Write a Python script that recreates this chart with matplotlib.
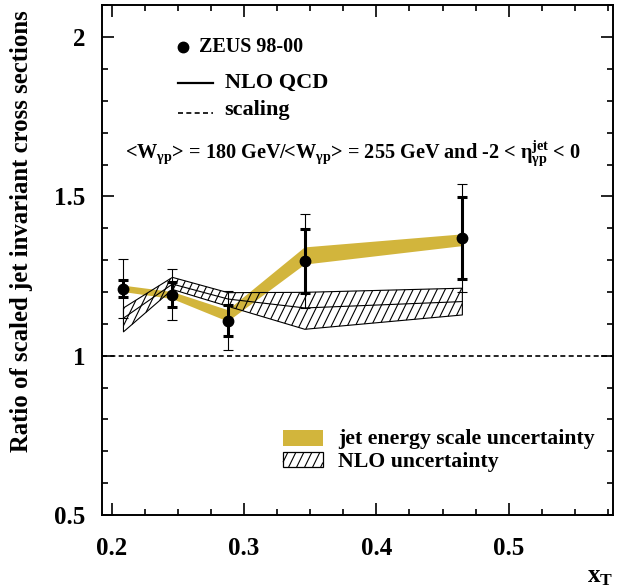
import numpy as np
import matplotlib
matplotlib.use("Agg")
import matplotlib.pyplot as plt
from matplotlib.patches import Rectangle
from matplotlib.collections import LineCollection
from matplotlib.transforms import IdentityTransform
from matplotlib.ticker import MultipleLocator

# ---- data -------------------------------------------------------------
xt = [0.209, 0.246, 0.288, 0.346, 0.465]
ratio = [1.211, 1.192, 1.110, 1.297, 1.370]
stat_err = [0.027, 0.038, 0.048, 0.100, 0.129]
tot_err = [0.092, 0.080, 0.093, 0.147, 0.170]

jes_lo = [1.200, 1.178, 1.107, 1.286, 1.344]
jes_hi = [1.220, 1.200, 1.143, 1.340, 1.381]

nlo = [1.118, 1.225, 1.178, 1.150, 1.170]
nlo_lo = [1.075, 1.208, 1.155, 1.083, 1.128]
nlo_hi = [1.150, 1.246, 1.198, 1.199, 1.212]

scaling_value = 1.0

xticks = [0.2, 0.3, 0.4, 0.5]
yticks = [0.5, 1.0, 1.5, 2.0]
xtick_labels = ["0.2", "0.3", "0.4", "0.5"]
ytick_labels = ["0.5", "1", "1.5", "2"]

# ---- style ------------------------------------------------------------
plt.rcParams["font.family"] = ["Liberation Serif", "DejaVu Serif"]
plt.rcParams["font.weight"] = "bold"
plt.rcParams["mathtext.fontset"] = "custom"
plt.rcParams["mathtext.rm"] = "Liberation Serif:bold"
plt.rcParams["mathtext.it"] = "Liberation Serif:bold"
plt.rcParams["mathtext.bf"] = "Liberation Serif:bold"
plt.rcParams["mathtext.default"] = "rm"

GOLD = "#d2b53c"
HATCH_ANGLE = np.deg2rad(64)
HATCH_STEP = 8.0  # pixels between hatch lines


def clip_line(p0, p1, poly):
    """Pieces of the line p0->p1 that lie inside a closed polygon (even-odd)."""
    p0 = np.asarray(p0, float)
    d = np.asarray(p1, float) - p0
    ts = []
    n = len(poly)
    for i in range(n):
        a = poly[i]
        b = poly[(i + 1) % n]
        e = b - a
        den = d[0] * e[1] - d[1] * e[0]
        if abs(den) < 1e-12:
            continue
        w = a - p0
        t = (w[0] * e[1] - w[1] * e[0]) / den
        s = (w[0] * d[1] - w[1] * d[0]) / den
        if 0.0 <= s < 1.0:
            ts.append(t)
    ts.sort()
    out = []
    for k in range(0, len(ts) - 1, 2):
        out.append([tuple(p0 + ts[k] * d), tuple(p0 + ts[k + 1] * d)])
    return out


def steep_hatch(poly, lw=0.8):
    """Slanted hatch lines (display space) filling a polygon."""
    poly = np.asarray(poly, float)
    x0, y0 = poly.min(axis=0)
    x1, y1 = poly.max(axis=0)
    run = (y1 - y0) / np.tan(HATCH_ANGLE)
    # anchor lines to a fixed grid so neighbouring areas line up
    first = np.floor((x0 - run) / HATCH_STEP) * HATCH_STEP
    segs = []
    for xs in np.arange(first, x1 + HATCH_STEP, HATCH_STEP):
        segs += clip_line((xs, y0 - 1), (xs + run * (y1 - y0 + 2) / (y1 - y0), y1 + 1), poly)
    return LineCollection(segs, colors="black", linewidths=lw,
                          transform=IdentityTransform(), zorder=2)


fig = plt.figure(figsize=(6.29, 5.88), dpi=100)
ax = fig.add_axes([0.1622, 0.1241, 0.8128, 0.8669])

ax.set_xlim(0.1928, 0.579)
ax.set_ylim(0.5, 2.1)

# jet energy scale band
ax.fill_between(xt, jes_lo, jes_hi, facecolor=GOLD, edgecolor="none",
                linewidth=0, zorder=1)

# NLO uncertainty band (hatched) with central prediction
ax.fill_between(xt, nlo_lo, nlo_hi, facecolor="none",
                edgecolor="black", linewidth=0.8, zorder=2)
band_outline = np.column_stack([list(xt) + list(xt[::-1]),
                                list(nlo_hi) + list(nlo_lo[::-1])])
ax.add_collection(steep_hatch(ax.transData.transform(band_outline)),
                  autolim=False)
ax.plot(xt, nlo, color="black", lw=0.8, zorder=3)

# scaling expectation
ax.axhline(scaling_value, color="black", lw=1.2, dashes=(3, 2), zorder=2)

# data: total (thin) and statistical (thick) uncertainties
ax.errorbar(xt, ratio, yerr=tot_err, fmt="none", ecolor="black",
            elinewidth=0.8, capsize=3.6, capthick=0.8, zorder=4)
ax.errorbar(xt, ratio, yerr=stat_err, fmt="none", ecolor="black",
            elinewidth=2.2, capsize=3.8, capthick=2.2, zorder=5)
ax.plot(xt, ratio, "o", color="black", ms=7.5, zorder=6)

# ticks
ax.set_xticks(xticks)
ax.set_xticklabels(xtick_labels)
ax.set_yticks(yticks)
ax.set_yticklabels(ytick_labels)
ax.xaxis.set_minor_locator(MultipleLocator(0.025))
ax.yaxis.set_minor_locator(MultipleLocator(0.1))
ax.tick_params(which="both", direction="in", top=True, right=True,
               width=1.2, labelsize=18)
ax.tick_params(which="major", length=8.5)
ax.tick_params(which="minor", length=4.3)
ax.tick_params(axis="x", which="major", pad=16)
ax.tick_params(axis="y", which="major", pad=12)
for lab in ax.get_xticklabels() + ax.get_yticklabels():
    lab.set_fontweight("bold")
for sp in ax.spines.values():
    sp.set_linewidth(1.4)

# upper legend
T = ax.transAxes
ax.plot([0.158], [0.918], "o", color="black", ms=7.5, transform=T,
        clip_on=False)
ax.text(0.190, 0.918, "ZEUS 98-00", transform=T, fontsize=14.5,
        fontweight="bold", va="center", ha="left")
ax.plot([0.148, 0.218], [0.847, 0.847], color="black", lw=1.6, transform=T)
ax.text(0.240, 0.847, "NLO QCD", transform=T, fontsize=16,
        fontweight="bold", va="center", ha="left")
ax.plot([0.148, 0.218], [0.788, 0.788], color="black", lw=1.2,
        dashes=(3, 2), transform=T)
ax.text(0.240, 0.794, "scaling", transform=T, fontsize=16,
        fontweight="bold", va="center", ha="left")
ax.text(0.045, 0.708,
        r"<W$_{\gamma p}$> = 180 GeV/<W$_{\gamma p}$> = 255 GeV and -2 < "
        r"$\eta^{jet}_{\gamma p}$ < 0",
        transform=T, fontsize=14.6, fontweight="bold", va="center",
        ha="left")

# lower legend
ax.add_patch(Rectangle((0.354, 0.1354), 0.078, 0.0314, transform=T,
                       facecolor=GOLD, edgecolor="none"))
ax.text(0.462, 0.149, "jet energy scale uncertainty", transform=T,
        fontsize=15.7, fontweight="bold", va="center", ha="left")
box = Rectangle((0.354, 0.0934), 0.078, 0.0295, transform=T,
                facecolor="none", edgecolor="black", linewidth=0.9)
ax.add_patch(box)
box_outline = T.transform(box.get_path().vertices[:4] * [0.078, 0.0295]
                          + [0.354, 0.0934])
ax.add_collection(steep_hatch(box_outline), autolim=False)
ax.text(0.462, 0.105, "NLO uncertainty", transform=T,
        fontsize=15.7, fontweight="bold", va="center", ha="left")

# axis titles
fig.text(22 / 629, 1 - 231 / 588, "Ratio of scaled jet invariant cross sections",
         rotation=90, ha="center", va="center", fontsize=17.8,
         fontweight="bold")
fig.text(600 / 629, 1 - 576 / 588, r"x$_{\rm T}$", ha="center", va="center",
         fontsize=18, fontweight="bold")

fig.savefig("out.png", dpi=100)
